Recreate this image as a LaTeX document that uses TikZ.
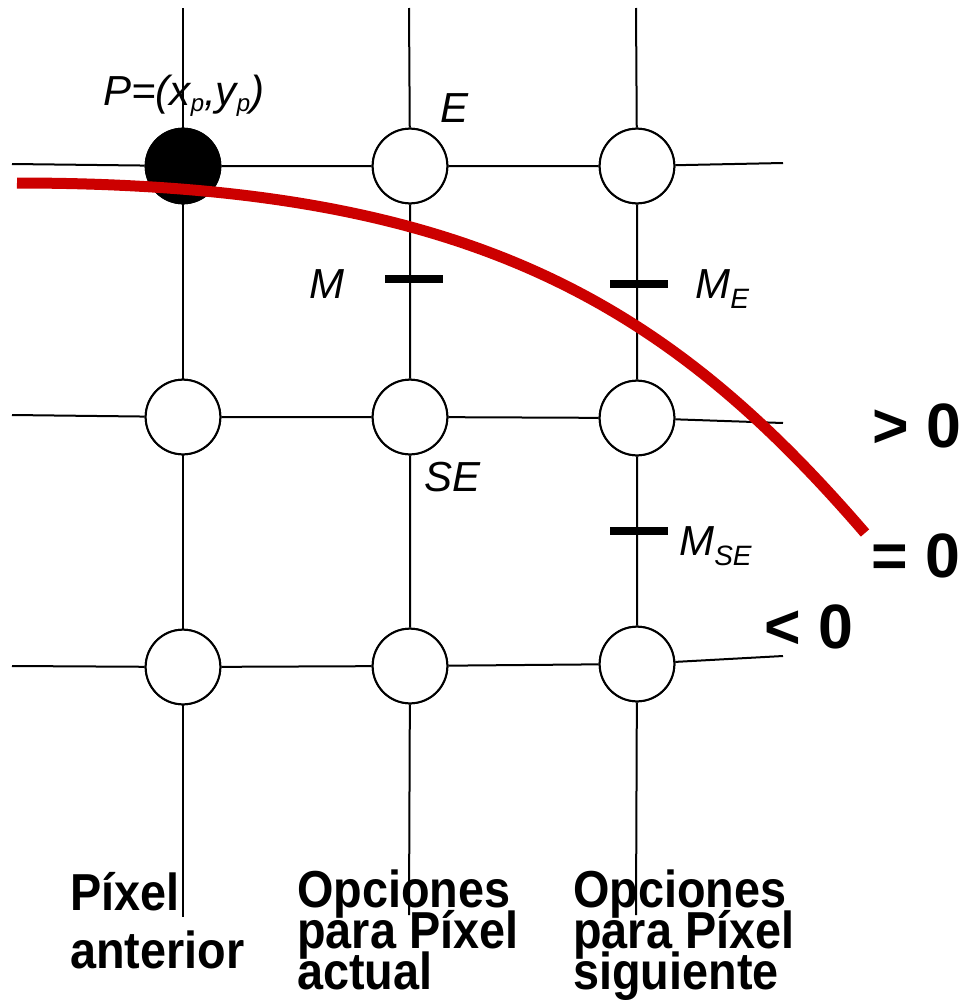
\documentclass[tikz,border=0pt]{standalone}
\usepackage{fontspec}
\setmainfont{Liberation Sans}
\newfontfamily\condfont[FakeStretch=0.9]{Liberation Sans}
\newcommand{\lowidx}[3]{\raisebox{-#2}{\fontsize{#1}{#1}\selectfont #3}}
\newcommand{\colfontA}{\condfont\bfseries\fontsize{39}{43.5}\selectfont}
\newcommand{\colfontB}{\condfont\bfseries\fontsize{39}{30.75}\selectfont}
\lineskiplimit=-100pt
\begin{document}
\begin{tikzpicture}[x=0.75pt,y=-0.75pt,
  grid/.style={draw=black,line width=1.5pt},
  pixel/.style={circle,draw=black,line width=1.5pt,fill=white,minimum size=56pt,inner sep=0pt},
  chosen/.style={pixel,fill=black},
  midmark/.style={rectangle,fill=black,draw=none,minimum width=43.5pt,minimum height=6pt,inner sep=0pt},
  itlabel/.style={anchor=base west,inner sep=0pt,font=\fontsize{31.5}{36}\selectfont\itshape},
  signlabel/.style={anchor=base west,inner sep=0pt,font=\fontsize{47}{50}\selectfont\bfseries},
  collabel/.style={anchor=base west,inner sep=0pt,align=left},
  curve/.style={draw={rgb,255:red,204;green,0;blue,0},line width=8.25pt,line cap=butt}
]
\useasboundingbox (0,0) rectangle (961,1000);

% grid pixels
\node[chosen] (c11) at (183,166) {};
\node[pixel]  (c12) at (410,166) {};
\node[pixel]  (c13) at (637,166) {};
\node[pixel]  (c21) at (183,417) {};
\node[pixel]  (c22) at (410,417) {};
\node[pixel]  (c23) at (637,418) {};
\node[pixel]  (c31) at (183,667) {};
\node[pixel]  (c32) at (410,666) {};
\node[pixel]  (c33) at (637,664) {};

% free line ends
\coordinate (L1) at (12,164);  \coordinate (R1) at (783,163);
\coordinate (L2) at (12,415);  \coordinate (R2) at (783,423);
\coordinate (L3) at (12,666);  \coordinate (R3) at (783,656);
\coordinate (T1) at (183,8);   \coordinate (B1) at (183,917);
\coordinate (T2) at (409,8);   \coordinate (B2) at (409,915);
\coordinate (T3) at (636,8);   \coordinate (B3) at (636,915);

\draw[grid] (L1) -- (c11) -- (c12) -- (c13) -- (R1);
\draw[grid] (L2) -- (c21) -- (c22) -- (c23) -- (R2);
\draw[grid] (L3) -- (c31) -- (c32) -- (c33) -- (R3);
\draw[grid] (T1) -- (c11) -- (c21) -- (c31) -- (B1);
\draw[grid] (T2) -- (c12) -- (c22) -- (c32) -- (B2);
\draw[grid] (T3) -- (c13) -- (c23) -- (c33) -- (B3);

% redraw circles on top of lines
\foreach \n in {c12,c13,c21,c22,c23,c31,c32,c33}{
  \path (\n.center) node[pixel] {};
}
\path (c11.center) node[chosen] {};

% midpoints
\node[midmark] (mM)  at (414,279) {};
\node[midmark] (mE)  at (639,284) {};
\node[midmark] (mSE) at (639,531) {};

% red curve
\coordinate (cs) at (17,183);
\coordinate (ce) at (865,533);
\draw[curve] (cs) .. controls (467,183) and (665,301) .. (ce);

% labels
\node[itlabel] (lP) at (103,105) {P=(x\lowidx{18}{4.5pt}{p},y\lowidx{18}{4.5pt}{p})};
\node[itlabel] (lE) at (440,122) {E};
\node[itlabel] (lM) at (309,298) {M};
\node[itlabel] (lME) at (695,298) {M\lowidx{21}{7.5pt}{E}};
\node[itlabel] (lSE) at (424,491) {SE};
\node[itlabel] (lMSE) at (679,555) {M\lowidx{21}{7.5pt}{SE}};

\node[signlabel] (gt) at (872,447) {> 0};
\node[signlabel] (eq) at (871,577) {= 0};
\node[signlabel] (lt) at (764,648) {< 0};

\node[collabel,font=\colfontA] (colA) at (70,968) {Píxel\\anterior};
\node[collabel,font=\colfontB] (colB) at (297,989) {Opciones\\para Píxel\\actual};
\node[collabel,font=\colfontB] (colC) at (573,989) {Opciones\\para Píxel\\siguiente};
\end{tikzpicture}
\end{document}
